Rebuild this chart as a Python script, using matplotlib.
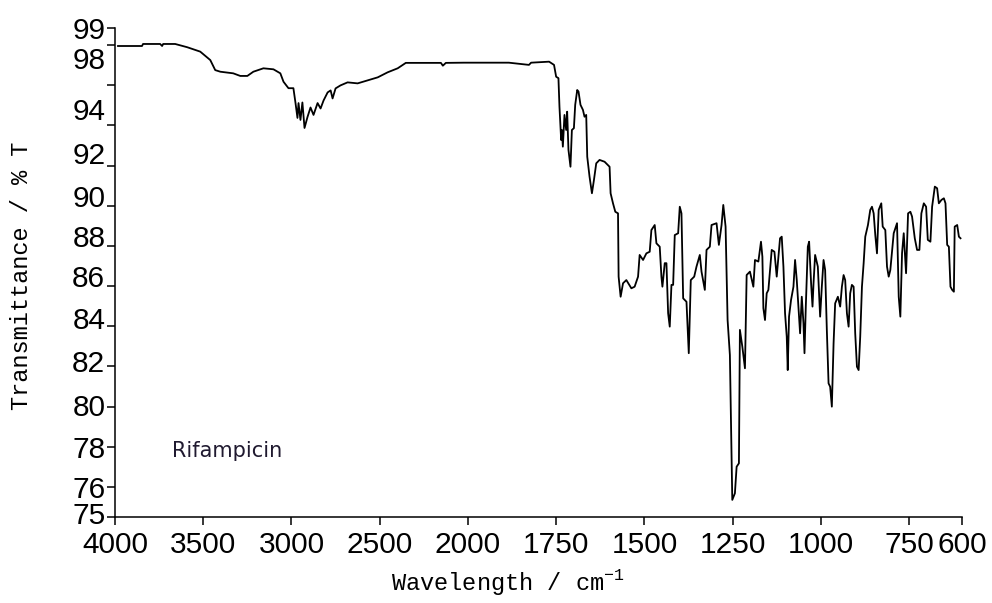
import matplotlib
matplotlib.use("Agg")
import matplotlib.pyplot as plt
import matplotlib.transforms as mtransforms
import numpy as np

# IR spectrum of rifampicin, wavenumber (cm-1) vs transmittance (%T)
wavenumber = [
    3983, 3847, 3841, 3744, 3733, 3727, 3659, 3591, 3517, 3460, 3432, 3403,
    3330, 3290, 3250, 3216, 3159, 3102, 3063, 3045, 3017, 2989, 2977, 2966,
    2960, 2949, 2938, 2926, 2909, 2892, 2875, 2852, 2835, 2818, 2795, 2778,
    2767, 2750, 2722, 2682, 2625, 2568, 2511, 2455, 2398, 2352, 2153, 2142,
    2125, 2023, 1884, 1827, 1821, 1770, 1756, 1750, 1743.5, 1740.6, 1735.8,
    1733.8, 1731, 1726.4, 1721.6, 1718.8, 1715.1, 1709.4, 1705.4, 1699.7,
    1696, 1690.3, 1686.6, 1681, 1674.1, 1669.6, 1664.8, 1661.9, 1655.4,
    1648.6, 1642.9, 1636.4, 1627, 1612.8, 1598.6, 1595.7, 1588.9, 1582.4,
    1574.7, 1573, 1567.3, 1560.5, 1551.1, 1536.9, 1527.6, 1517.9, 1513.4,
    1503.7, 1494.3, 1484.9, 1480.1, 1470.7, 1465.9, 1456.5, 1451.7, 1448.9,
    1442.3, 1437.5, 1432.7, 1428.1, 1423.3, 1418.5, 1413.9, 1404.3, 1399.7,
    1394.9, 1390.1, 1380.7, 1374.2, 1368.5, 1358.8, 1352.3, 1342.9, 1338.1,
    1328.7, 1323.9, 1314.5, 1309.7, 1295.5, 1288.9, 1281.3, 1276.4, 1269.9,
    1264.2, 1257.7, 1250.9, 1243.5, 1238.6, 1232.1, 1229.3, 1222.4, 1215,
    1210.2, 1200.9, 1191.2, 1186.6, 1177, 1169.6, 1165.6, 1162.8, 1158.2,
    1153.4, 1148.6, 1139.2, 1131.5, 1125, 1115.6, 1110.8, 1106, 1101.4,
    1096.6, 1093.8, 1090.1, 1084.4, 1077.6, 1073, 1068.2, 1063.4, 1058.8,
    1054, 1049.2, 1046.3, 1042.6, 1036.9, 1033.2, 1027.6, 1023.6, 1020.7,
    1016.2, 1008.5, 1002, 997.2, 992.3, 987.8, 983, 978.1, 973.6, 968.8,
    963.9, 959.4, 951.7, 945.2, 940.3, 935.5, 931, 926.1, 921.3, 916.8, 912,
    907.1, 902.6, 897.7, 892.9, 888.4, 883.5, 878.7, 874.1, 866.5, 860,
    855.1, 850.3, 845.7, 840.9, 836.1, 828.7, 824.7, 817.3, 812.5, 807.7,
    803.1, 793.5, 784.1, 779.3, 774.7, 769.9, 765.1, 758.5, 752.8, 746.3,
    741.5, 733.8, 727.3, 720.7, 715.1, 708.2, 701.7, 696.9, 689.5, 684.7,
    677, 670.5, 665.6, 658.2, 651.4, 646.8, 642, 637.2, 632.7, 627.8, 623,
    620.7, 613.6, 608.8, 604.2,
]
transmittance = [
    97.95, 97.95, 98.06, 98.06, 97.95, 98.06, 98.06, 97.89, 97.67, 97.25,
    96.75, 96.67, 96.59, 96.46, 96.46, 96.67, 96.84, 96.79, 96.59, 96.17,
    95.85, 95.85, 95.11, 94.37, 95.11, 94.27, 95.14, 93.87, 94.42, 94.89,
    94.52, 95.11, 94.84, 95.24, 95.64, 95.74, 95.34, 95.84, 95.99, 96.14,
    96.09, 96.24, 96.39, 96.64, 96.84, 97.11, 97.11, 96.97, 97.11, 97.12,
    97.12, 97.01, 97.12, 97.17, 97.01, 96.42, 96.35, 94.93, 93.27, 93.77,
    92.94, 94.52, 93.77, 94.68, 92.78, 91.94, 93.77, 93.86, 95.02, 95.76,
    95.68, 95.02, 94.77, 94.43, 94.52, 92.44, 91.45, 90.62, 91.28, 92.11,
    92.28, 92.19, 91.94, 90.62, 90.12, 89.70, 89.62, 86.47, 85.47, 86.14,
    86.30, 85.89, 85.97, 86.47, 87.55, 87.30, 87.63, 87.71, 88.79, 89.04,
    88.13, 87.96, 86.47, 85.97, 87.14, 87.14, 84.65, 83.98, 86.06, 86.06,
    88.54, 88.63, 89.95, 89.62, 85.39, 85.22, 82.66, 86.30, 86.47, 86.97,
    87.55, 86.72, 85.81, 87.80, 87.96, 89.04, 89.13, 88.05, 89.04, 90.04,
    88.96, 84.31, 82.57, 75.57, 75.79, 77.01, 77.18, 83.82, 82.98, 81.91,
    86.55, 86.72, 85.97, 87.30, 87.22, 88.21, 87.46, 84.90, 84.31, 85.64,
    85.81, 87.80, 87.71, 86.47, 88.38, 88.46, 86.97, 84.65, 83.48, 81.82,
    84.48, 85.31, 85.97, 87.30, 86.30, 84.98, 83.65, 85.47, 84.15, 82.66,
    84.98, 87.96, 88.21, 86.14, 84.98, 86.14, 87.55, 86.97, 84.48, 85.97,
    87.30, 86.80, 83.82, 81.16, 80.99, 80.00, 83.15, 85.14, 85.47, 84.98,
    85.97, 86.55, 86.30, 84.65, 83.98, 85.64, 86.06, 85.97, 83.65, 81.99,
    81.82, 83.48, 85.97, 87.14, 88.46, 89.04, 89.79, 89.95, 89.62, 88.54,
    87.63, 89.79, 90.12, 88.96, 88.79, 86.97, 86.47, 86.80, 88.63, 89.13,
    85.47, 84.48, 87.63, 88.63, 86.64, 89.62, 89.70, 89.46, 88.38, 87.80,
    87.80, 89.62, 90.12, 89.95, 88.30, 88.21, 89.95, 90.95, 90.87, 90.12,
    90.29, 90.37, 90.12, 88.05, 87.96, 85.97, 85.81, 85.72, 88.96, 89.04,
    88.46, 88.38,
]

x_ticks = [4000, 3500, 3000, 2500, 2000, 1750, 1500, 1250, 1000, 750, 600]
y_ticks = [75, 76, 78, 80, 82, 84, 86, 88, 90, 92, 94, 96, 98, 99]
y_tick_labels = ["75", "76", "78", "80", "82", "84", "86", "88", "90",
                 "92", "94", "", "98", "99"]
sample_name = "Rifampicin"


# split wavenumber axis: below 2000 cm-1 one unit takes twice the width
def x_forward(x):
    x = np.asarray(x, dtype=float)
    return np.where(x < 2000, x, 2000 + (x - 2000) / 2)


def x_inverse(v):
    v = np.asarray(v, dtype=float)
    return np.where(v < 2000, v, 2000 + (v - 2000) * 2)


# %T axis is stretched below 76 and squeezed above 98
def y_forward(t):
    t = np.asarray(t, dtype=float)
    return np.where(t < 76, 76 - (76 - t) * 1.493,
                    np.where(t > 98, 98 + (t - 98) * 0.846, t))


def y_inverse(v):
    v = np.asarray(v, dtype=float)
    return np.where(v < 76, 76 - (76 - v) / 1.493,
                    np.where(v > 98, 98 + (v - 98) / 0.846, v))


fig = plt.figure(figsize=(9.92, 6.03), dpi=100)
ax = fig.add_axes([115 / 992, 86 / 603, 847 / 992, 489 / 603])

ax.plot(wavenumber, transmittance, color="black", lw=1.3)

ax.set_xscale("function", functions=(x_forward, x_inverse))
ax.set_yscale("function", functions=(y_forward, y_inverse))
ax.set_xlim(4000, 600)
ax.set_ylim(75, 99)

ax.set_xticks(x_ticks)
ax.set_xticklabels([str(t) for t in x_ticks])
ax.set_yticks(y_ticks)
ax.set_yticklabels(y_tick_labels)
ax.minorticks_off()

for side in ("top", "right"):
    ax.spines[side].set_visible(False)
for side in ("left", "bottom"):
    ax.spines[side].set_linewidth(1.1)

ax.tick_params(axis="both", direction="out", length=6, width=1.1,
               labelsize=21.5, colors="black")
ax.tick_params(axis="y", pad=1)
ax.tick_params(axis="x", pad=4)
for lbl in ax.get_xticklabels() + ax.get_yticklabels():
    lbl.set_fontfamily("Liberation Sans")

# nudge some %T labels the way the original instrument printout places them
label_shift = {75: -4, 80: -2, 82: -5, 84: -8, 86: -10, 88: -10, 90: -10,
               92: -13, 94: -16, 98: 13}
for val, lbl in zip(y_ticks, ax.get_yticklabels()):
    dy = label_shift.get(val, 0)
    if dy:
        off = mtransforms.ScaledTranslation(0, -dy / 100, fig.dpi_scale_trans)
        lbl.set_transform(lbl.get_transform() + off)

ax.set_xlabel(r"Wavelength / cm$^{\mathregular{-1}}$",
              fontfamily="Liberation Mono", fontsize=17)
ax.xaxis.set_label_coords(0.464, -0.149)
ax.xaxis.label.set_va("baseline")

ax.set_ylabel("Transmittance / % T", fontfamily="Liberation Mono", fontsize=17)
ax.yaxis.set_label_coords(-0.11, 0.493)
ax.yaxis.label.set_va("center")

ax.text(0.067, 0.123, sample_name, transform=ax.transAxes, fontsize=15,
        fontfamily="DejaVu Sans", color="#201a30", va="baseline")

fig.savefig("out.png", dpi=100)
